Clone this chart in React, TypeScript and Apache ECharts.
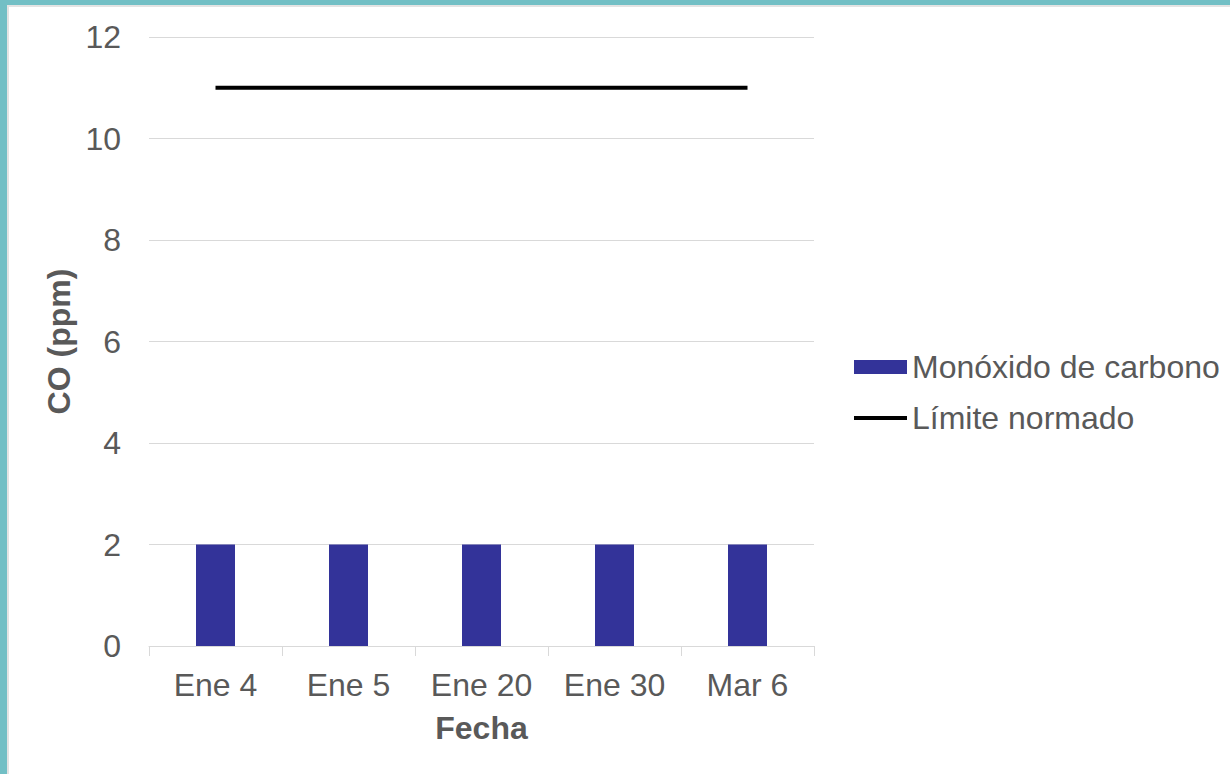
import React, { useEffect, useRef } from "react";
import * as echarts from "echarts";

const categories = ["Ene 4", "Ene 5", "Ene 20", "Ene 30", "Mar 6"];
const coValues = [2, 2, 2, 2, 2];
const limitValues = [11, 11, 11, 11, 11];
const seriesNames = ["Monóxido de carbono", "Límite normado"];

const FONT = "Liberation Sans, Arial, sans-serif";
const TXT = "#595959";
const FS = 32;

export default function App() {
  const ref = useRef<HTMLDivElement>(null);
  useEffect(() => {
    document.body.style.margin = "0";
    const chart = echarts.init(ref.current!, null, { renderer: "svg" });
    chart.setOption({
      animation: false,
      backgroundColor: "#ffffff",
      textStyle: { fontFamily: FONT },
      graphic: [
        { type: "rect", left: 0, top: 0, shape: { width: 7, height: 774 }, style: { fill: "#72BFC5" } },
        { type: "rect", left: 0, top: 0, shape: { width: 1230, height: 5 }, style: { fill: "#72BFC5" } },
        { type: "rect", left: 7, top: 5, shape: { width: 2, height: 769 }, style: { fill: "#e3e3e3" } },
        { type: "rect", left: 7, top: 5, shape: { width: 1223, height: 2 }, style: { fill: "#e3e3e3" } },
      ],
      grid: { left: 149, right: 416, top: 37, bottom: 128, containLabel: false },
      legend: {
        orient: "vertical",
        left: 847,
        top: 346,
        itemWidth: 53,
        itemHeight: 14,
        itemGap: 19,
        data: [
          { name: seriesNames[0], icon: "rect" },
          { name: seriesNames[1], itemStyle: { opacity: 0 }, lineStyle: { width: 4, color: "#000000" } },
        ],
        textStyle: { fontSize: FS, color: TXT, fontFamily: FONT, lineHeight: 32 },
      },
      xAxis: {
        type: "category",
        data: categories,
        boundaryGap: true,
        name: "Fecha",
        nameLocation: "middle",
        nameGap: 66,
        nameTextStyle: { fontSize: FS, fontWeight: "bold", color: TXT, fontFamily: FONT },
        axisLine: { show: true, lineStyle: { color: "#d9d9d9", width: 1 } },
        axisTick: { show: true, length: 10, lineStyle: { color: "#d9d9d9" } },
        axisLabel: { fontSize: FS, color: TXT, margin: 23, fontFamily: FONT },
      },
      yAxis: {
        type: "value",
        min: 0,
        max: 12,
        interval: 2,
        name: "CO (ppm)",
        nameLocation: "middle",
        nameGap: 71,
        nameRotate: 90,
        nameTextStyle: { fontSize: FS, fontWeight: "bold", color: TXT, fontFamily: FONT },
        axisLine: { show: false },
        axisTick: { show: false },
        axisLabel: { fontSize: FS, color: TXT, margin: 28, fontFamily: FONT },
        splitLine: { lineStyle: { color: "#d9d9d9", width: 1 } },
      },
      series: [
        {
          name: seriesNames[0],
          type: "bar",
          data: coValues,
          barWidth: 39,
          itemStyle: { color: "#333399" },
        },
        {
          name: seriesNames[1],
          type: "line",
          data: limitValues,
          symbol: "none",
          lineStyle: { color: "#000000", width: 4 },
          itemStyle: { color: "#000000" },
        },
      ],
    });
    return () => chart.dispose();
  }, []);
  return <div ref={ref} style={{ position: "absolute", left: 0, top: 0, width: 1230, height: 774 }} />;
}
